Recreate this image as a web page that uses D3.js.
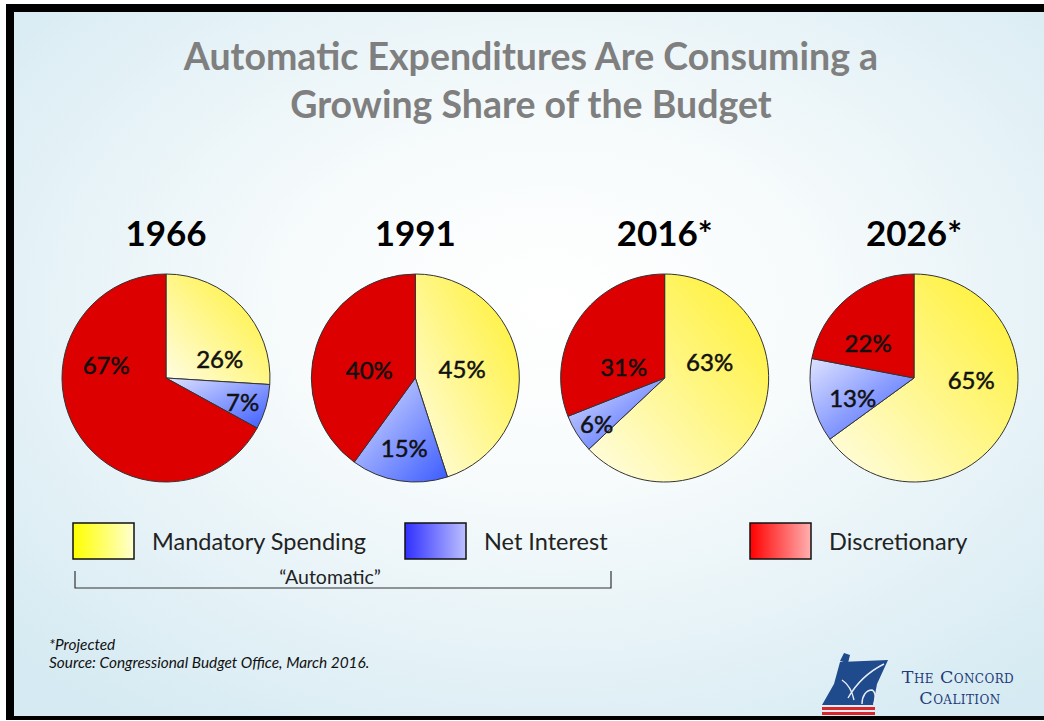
<!DOCTYPE html>
<html>
<head>
<meta charset="utf-8">
<script src="https://cdn.jsdelivr.net/npm/d3@7"></script>
<style>
  html, body { margin: 0; padding: 0; background: #fff; }
  svg { display: block; }
</style>
</head>
<body>
<svg id="chart" width="1044" height="721"></svg>
<script>
// Share of federal outlays by budget category, per year
const years = ["1966", "1991", "2016*", "2026*"];
const categories = ["Mandatory Spending", "Net Interest", "Discretionary"];
const mandatory = [26, 45, 63, 65];
const netInterest = [7, 15, 6, 13];
const discretionary = [67, 40, 31, 22];

const titleLines = ["Automatic Expenditures Are Consuming a", "Growing Share of the Budget"];
const footnotes = ["*Projected", "Source: Congressional Budget Office, March 2016."];
const bracketLabel = "\u201CAutomatic\u201D";

// Where each percentage sits inside its pie: [angle in degrees clockwise from 12 o'clock, fraction of radius]
const labelSpots = [
  [[70, 0.55], [107, 0.77], [283, 0.59]],
  [[78, 0.46], [189, 0.68], [280, 0.45]],
  [[70, 0.46], [236, 0.79], [286, 0.41]],
  [[91, 0.55], [252, 0.62], [308, 0.56]]
];

const W = 1044, H = 721;
const FONT = "Lato, 'Open Sans', sans-serif";
const svg = d3.select("#chart");
const defs = svg.append("defs");

// Slide background
const bg = defs.append("radialGradient").attr("id", "bg")
  .attr("cx", "52%").attr("cy", "42%").attr("r", "72%");
bg.append("stop").attr("offset", "0%").attr("stop-color", "#ffffff");
bg.append("stop").attr("offset", "35%").attr("stop-color", "#f7fbfc");
bg.append("stop").attr("offset", "100%").attr("stop-color", "#d5eaf2");

svg.append("rect").attr("width", W).attr("height", H).attr("fill", "#ffffff");
svg.append("rect").attr("x", 6).attr("y", 4).attr("width", W - 6).attr("height", 716).attr("fill", "#000");
svg.append("rect").attr("x", 14).attr("y", 12).attr("width", W - 14).attr("height", 704).attr("fill", "url(#bg)");

// Slice gradients
function linGrad(id, x1, y1, x2, y2, c1, c2) {
  const g = defs.append("linearGradient").attr("id", id)
    .attr("x1", x1).attr("y1", y1).attr("x2", x2).attr("y2", y2);
  g.append("stop").attr("offset", "0%").attr("stop-color", c1);
  g.append("stop").attr("offset", "100%").attr("stop-color", c2);
}
linGrad("gMand", 1, 0, 0, 1, "#fff02a", "#fffde6");
linGrad("gInt", 0, 0, 1, 1, "#dfe3ff", "#3b5cff");
linGrad("lgMand", 0, 0, 1, 0, "#ffff00", "#ffffd0");
linGrad("lgInt", 0, 0, 1, 0, "#3030ff", "#bcc0ff");
linGrad("lgDisc", 0, 0, 1, 0, "#ff0000", "#ffb0b0");

const sliceFill = d3.scaleOrdinal().domain(categories)
  .range(["url(#gMand)", "url(#gInt)", "#dd0000"]);
const legendFill = d3.scaleOrdinal().domain(categories)
  .range(["url(#lgMand)", "url(#lgInt)", "url(#lgDisc)"]);

// Title
const title = svg.append("g").attr("font-family", FONT)
  .attr("font-weight", 700).attr("fill", "#7f7f7f").attr("text-anchor", "middle");
titleLines.forEach((t, i) => {
  title.append("text").attr("x", 531).attr("y", 70 + i * 48)
    .attr("font-size", 37.5).text(t);
});

// Pies
const x = d3.scalePoint().domain(years).range([166, 914]);
const cy = 378, R = 104;
const pie = d3.pie().sort(null).value(d => d.value);
const arc = d3.arc().innerRadius(0).outerRadius(R);

years.forEach((yr, i) => {
  const rows = [
    { cat: categories[0], value: mandatory[i] },
    { cat: categories[1], value: netInterest[i] },
    { cat: categories[2], value: discretionary[i] }
  ];
  const g = svg.append("g").attr("transform", `translate(${x(yr)},${cy})`);

  g.selectAll("path.slice").data(pie(rows)).join("path")
    .attr("class", "slice")
    .attr("d", arc)
    .attr("fill", d => sliceFill(d.data.cat))
    .attr("stroke", "#333")
    .attr("stroke-width", 1);

  g.selectAll("text.pct").data(rows).join("text")
    .attr("class", "pct")
    .attr("x", (d, j) => R * labelSpots[i][j][1] * Math.sin(labelSpots[i][j][0] * Math.PI / 180))
    .attr("y", (d, j) => -R * labelSpots[i][j][1] * Math.cos(labelSpots[i][j][0] * Math.PI / 180))
    .attr("text-anchor", "middle")
    .attr("dominant-baseline", "central")
    .attr("font-family", FONT)
    .attr("font-size", 24)
    .attr("fill", "#111")
    .attr("stroke", "#111").attr("stroke-width", 0.5)
    .text(d => d.value + "%");

  svg.append("text").attr("x", x(yr)).attr("y", 246)
    .attr("text-anchor", "middle")
    .attr("font-family", FONT)
    .attr("font-weight", 700).attr("font-size", 35).attr("fill", "#000")
    .text(yr);
});

// Legend
const legendX = d3.scaleOrdinal().domain(categories).range([73, 405, 750]);
const lg = svg.append("g").attr("font-family", FONT);
categories.forEach(c => {
  lg.append("rect").attr("x", legendX(c)).attr("y", 523).attr("width", 61).attr("height", 36)
    .attr("fill", legendFill(c)).attr("stroke", "#111").attr("stroke-width", 1.5);
  lg.append("text").attr("x", legendX(c) + 79).attr("y", 550)
    .attr("font-size", 23.5).attr("fill", "#222").text(c);
});

// Bracket grouping the two automatic categories
const bx0 = 75, bx1 = 611, by = 588;
svg.append("path")
  .attr("d", `M${bx0},571 L${bx0},${by} L${bx1},${by} L${bx1},571`)
  .attr("fill", "none").attr("stroke", "#333").attr("stroke-width", 1.2);
svg.append("text").attr("x", (bx0 + bx1) / 2 - 13).attr("y", 584)
  .attr("text-anchor", "middle")
  .attr("font-family", FONT)
  .attr("font-size", 19.5).attr("fill", "#222").text(bracketLabel);

// Footnotes
footnotes.forEach((t, i) => {
  svg.append("text").attr("x", 49).attr("y", 650 + i * 18)
    .attr("font-family", FONT)
    .attr("font-style", "italic").attr("font-size", 15.4).attr("fill", "#111").text(t);
});

// Organisation mark
const logo = svg.append("g");
logo.append("path")
  .attr("d", "M840,662 L888,660 L877,684 L873,705 L822,705 L834,684 Z")
  .attr("fill", "#1f4a8c");
logo.append("path")
  .attr("d", "M848,698 C856,684 868,672 884,664 M854,700 C852,690 848,684 842,680 M862,704 C862,696 866,690 872,690 C876,692 876,700 874,704")
  .attr("fill", "none").attr("stroke", "#e8eef7").attr("stroke-width", 1.4);
logo.append("path").attr("d", "M840,661 l4,-8 l6,2 l-2,8 Z").attr("fill", "#1f4a8c");
[707, 712].forEach(yy => {
  logo.append("rect").attr("x", 822).attr("y", yy).attr("width", 53).attr("height", 3).attr("fill", "#d9262b");
});
const logoText = svg.append("g")
  .attr("font-family", "'DejaVu Serif', 'Liberation Serif', serif")
  .attr("fill", "#1f3c78").attr("text-anchor", "middle")
  .attr("font-size", 17.5).attr("letter-spacing", 0.4)
  .style("font-variant", "small-caps");
logoText.append("text").attr("x", 958).attr("y", 683).text("The Concord");
logoText.append("text").attr("x", 960).attr("y", 704).text("Coalition");
</script>
</body>
</html>
